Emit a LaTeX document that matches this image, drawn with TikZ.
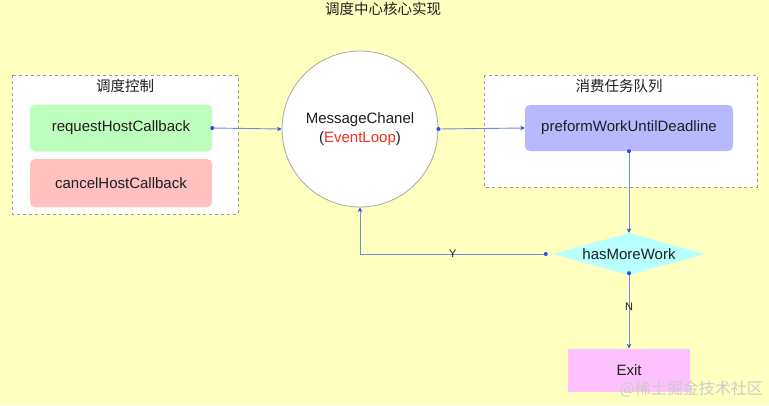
\documentclass[tikz,border=0pt]{standalone}
\usepackage{fontspec}
\setmainfont{Liberation Sans}
\newfontfamily\cjk{Noto Sans CJK SC}
\usetikzlibrary{shapes.geometric,arrows.meta}
\definecolor{bg}{RGB}{255,255,192}
\definecolor{lnk}{RGB}{110,140,220}
\definecolor{tip}{RGB}{40,80,230}
\definecolor{gbox}{RGB}{190,255,190}
\definecolor{rbox}{RGB}{255,192,192}
\definecolor{pbox}{RGB}{184,184,255}
\definecolor{cbox}{RGB}{184,255,255}
\definecolor{mbox}{RGB}{255,192,255}
\definecolor{evred}{RGB}{240,50,30}
\definecolor{txt}{RGB}{30,30,30}
\tikzset{
  group/.style={draw=gray!80, dashed, fill=white, line width=0.7pt},
  func/.style={rounded corners=5pt, inner sep=0pt, text=txt, font=\fontsize{15}{17}\selectfont},
  lbl/.style={font=\cjk\fontsize{14.5}{16}\selectfont, text=txt, inner sep=0pt},
  link/.style={draw=lnk, line width=0.9pt, -{Stealth[length=4.5pt,width=4.5pt,color=tip]}},
  dot/.style={circle, fill=tip, inner sep=0pt, minimum size=4pt},
  elbl/.style={font=\fontsize{11}{12}\selectfont, text=txt, inner sep=1pt}
}
\begin{document}
\begin{tikzpicture}[x=1pt,y=-1pt]
\fill[bg] (0,0) rectangle (769,405);
\useasboundingbox (0,0) rectangle (769,405);
\node[lbl] (title) at (383,9) {调度中心核心实现};
% left group
\draw[group] (12,75) rectangle (238,214);
\node[lbl] (lt) at (125,86) {调度控制};
\node[func, fill=gbox, minimum width=182pt, minimum height=47pt] (req) at (121,128) {requestHostCallback};
\node[func, fill=rbox, minimum width=182pt, minimum height=48pt] (cancel) at (121,183) {cancelHostCallback};
% right group
\draw[group] (484,75) rectangle (757,187);
\node[lbl] (rt) at (619,86) {消费任务队列};
\node[func, fill=pbox, minimum width=208pt, minimum height=46pt] (pw) at (629,128) {preformWorkUntilDeadline};
% circle
\node[circle, draw=gray!70, fill=white, line width=0.8pt, minimum size=156pt, inner sep=0pt, align=center, text=txt, font=\fontsize{15}{19}\selectfont] (mc) at (360,129) {MessageChanel\\(\textcolor{evred}{EventLoop})};
% diamond
\node[diamond, fill=cbox, minimum width=152pt, minimum height=42pt, inner sep=0pt, aspect=3.6, text=txt, font=\fontsize{15}{17}\selectfont] (hw) at (629,254) {hasMoreWork};
% exit
\node[fill=mbox, minimum width=122pt, minimum height=43pt, inner sep=0pt, text=txt, font=\fontsize{15}{17}\selectfont] (exit) at (629,370) {Exit};
% links
\draw[link] (req.east) -- (mc.west);
\node[dot] at (req.east) {};
\draw[link] (mc.east) -- (pw.west);
\node[dot] at (mc.east) {};
\draw[link] (pw.south) -- (hw.north);
\node[dot] at (pw.south) {};
\coordinate (ys) at ([xshift=-7pt]hw.west);
\draw[link] (ys) -| node[elbl, pos=0.25] {Y} (mc.south);
\node[dot] at (ys) {};
\coordinate (ns) at ([yshift=2pt]hw.south);
\draw[link] (ns) -- node[elbl, pos=0.45] {N} (exit.north);
\node[dot] at (ns) {};
% watermark
\node[font=\cjk\fontsize{16}{18}\selectfont, text=gray!40, inner sep=0pt, anchor=east] (wm) at (763,389) {@稀土掘金技术社区};
\end{tikzpicture}
\end{document}
